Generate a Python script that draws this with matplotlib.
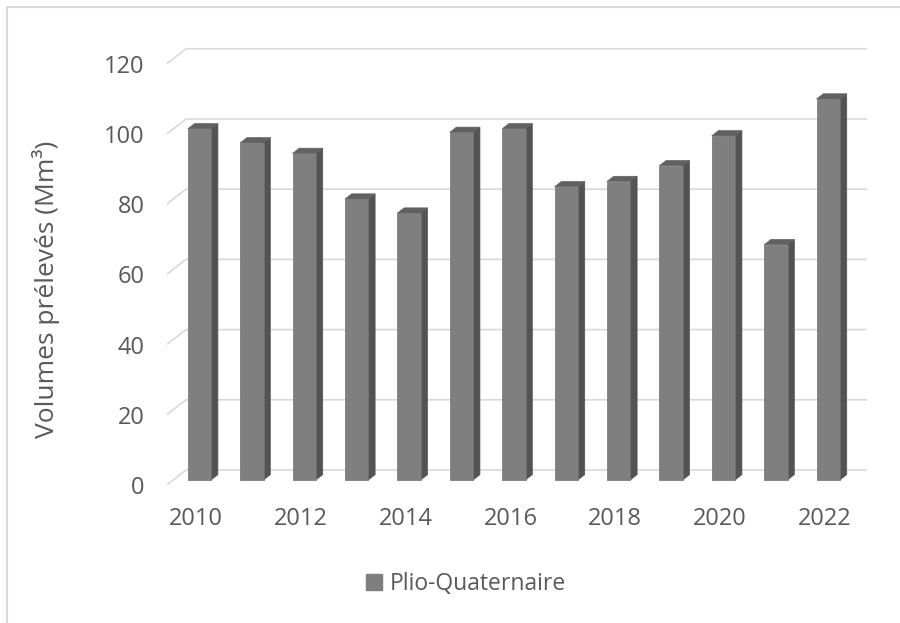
import matplotlib
matplotlib.use("Agg")
import matplotlib.pyplot as plt
from matplotlib.patches import Polygon, Rectangle, Patch

plt.rcParams['font.family'] = ['Open Sans', 'DejaVu Sans']

years = list(range(2010, 2023))
volumes = [100, 96, 93, 80, 76, 99, 100, 83.5, 85, 89.5, 98, 67, 108.5]
series_name = 'Plio-Quaternaire'
y_ticks = [0, 20, 40, 60, 80, 100, 120]
x_tick_years = [2010, 2012, 2014, 2016, 2018, 2020, 2022]

TEXT = '#595959'
GRID = '#d9d9d9'
FRONT = '#7f7f7f'
SIDE = '#535353'
TOP = '#616161'

# oblique 3D projection: full depth offset in data units
DX, DY = 0.368, 4.27
BAR_W = 0.447
T0, DEPTH = 0.34, 0.35

fig = plt.figure(figsize=(9, 6.23), dpi=100)
ax = fig.add_axes([166.7 / 900, 138 / 623, 700.5 / 900, 442.3 / 623])
ax.set_xlim(-0.5, len(years) - 0.5 + DX)
ax.set_ylim(0, 126)
for s in ax.spines.values():
    s.set_visible(False)

# back wall gridlines plus diagonal on the left wall
x0, x1 = -0.5, len(years) - 0.5
for v in y_ticks:
    ax.plot([x0, x0 + DX, x1 + DX], [v, v + DY, v + DY], color=GRID, lw=1.2,
            solid_capstyle='butt', zorder=1)

# bars: front face, right side, top
for i, v in enumerate(volumes):
    xl = i - BAR_W / 2 + T0 * DX
    xr = i + BAR_W / 2 + T0 * DX
    yb = T0 * DY
    yt = v + T0 * DY
    ddx, ddy = DEPTH * DX, DEPTH * DY
    ax.add_patch(Polygon([(xr, yb), (xr + ddx, yb + ddy), (xr + ddx, yt + ddy), (xr, yt)],
                         closed=True, facecolor=SIDE, edgecolor=SIDE, lw=0.5, zorder=2))
    ax.add_patch(Polygon([(xl, yt), (xr, yt), (xr + ddx, yt + ddy), (xl + ddx, yt + ddy)],
                         closed=True, facecolor=TOP, edgecolor=TOP, lw=0.5, zorder=2))
    ax.add_patch(Rectangle((xl, yb), BAR_W, v, facecolor=FRONT, edgecolor='#707070',
                           lw=0.5, zorder=3))

ax.set_yticks(y_ticks)
ax.set_yticklabels([str(t) for t in y_ticks])
ax.set_xticks([years.index(y) + 0.06 for y in x_tick_years])
ax.set_xticklabels([str(y) for y in x_tick_years])
ax.tick_params(axis='y', length=0, pad=16, labelsize=17, labelcolor=TEXT)
ax.tick_params(axis='x', length=0, pad=16, labelsize=17, labelcolor=TEXT)

fig.text(46 / 900, 1 - 289 / 623, 'Volumes prélevés (Mm³)', rotation=90,
         ha='center', va='center', fontsize=19, color=TEXT)

fig.legend(handles=[Patch(facecolor=FRONT, edgecolor=FRONT, label=series_name)],
           loc='center', bbox_to_anchor=(466 / 900, 1 - 584 / 623), frameon=False,
           fontsize=16.5, labelcolor=TEXT, handlelength=0.7, handleheight=0.7,
           handletextpad=0.3)

# chart area border (top and left edges visible)
fig.add_artist(Rectangle((7 / 900, -0.1), 1.2, 1.1 - 7 / 623, transform=fig.transFigure,
                         fill=False, edgecolor=GRID, lw=1.5))

fig.savefig('out.png', dpi=100)
